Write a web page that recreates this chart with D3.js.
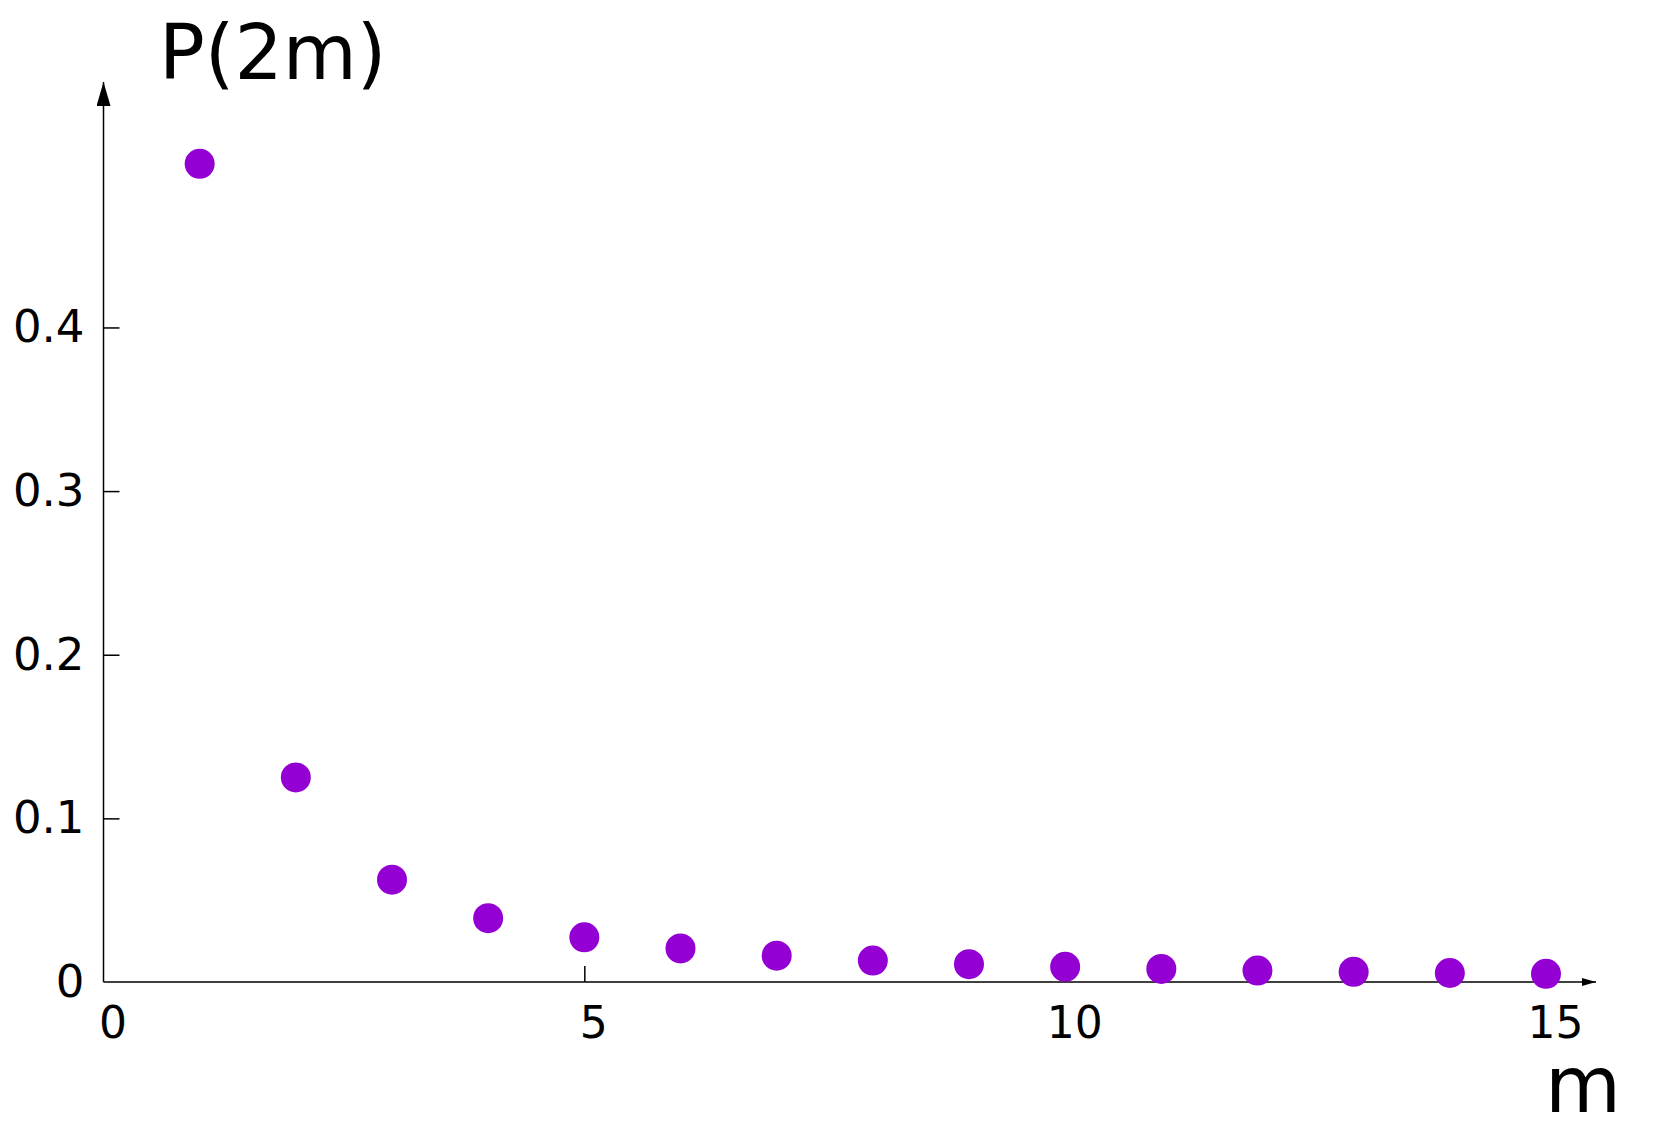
<!DOCTYPE html>
<html>
<head>
<meta charset="utf-8">
<script src="https://cdn.jsdelivr.net/npm/d3@7"></script>
<style>
  body { margin: 0; background: #ffffff; }
  svg { display: block; }
</style>
</head>
<body>
<div id="chart"></div>
<script>
// Data
const mValues = [1, 2, 3, 4, 5, 6, 7, 8, 9, 10, 11, 12, 13, 14, 15];
const pValues = [0.5, 0.125, 0.0625, 0.039, 0.0273, 0.0205, 0.0161, 0.0131, 0.0109, 0.0093, 0.008, 0.007, 0.0062, 0.0055, 0.005];
const xTicks = [0, 5, 10, 15];
const yTicks = [0, 0.1, 0.2, 0.3, 0.4];

const width = 1657;
const height = 1132;
const fontFamily = '"DejaVu Sans", sans-serif';

const svg = d3.select('#chart')
  .append('svg')
  .attr('width', width)
  .attr('height', height);

// Scales
const x = d3.scaleLinear().domain([0, 15.52]).range([103.5, 1596]);
const y = d3.scaleLinear().domain([0, 0.55]).range([982, 82]);

// Arrow markers
const defs = svg.append('defs');
defs.append('marker')
  .attr('id', 'arrow-y')
  .attr('viewBox', '0 0 24 14')
  .attr('refX', 24)
  .attr('refY', 7)
  .attr('markerWidth', 24)
  .attr('markerHeight', 14)
  .attr('markerUnits', 'userSpaceOnUse')
  .attr('orient', 'auto')
  .append('path')
  .attr('d', 'M0,0 L24,7 L0,14 Z')
  .attr('fill', '#000');

defs.append('marker')
  .attr('id', 'arrow-x')
  .attr('viewBox', '0 0 14 8')
  .attr('refX', 14)
  .attr('refY', 4)
  .attr('markerWidth', 14)
  .attr('markerHeight', 8)
  .attr('markerUnits', 'userSpaceOnUse')
  .attr('orient', 'auto')
  .append('path')
  .attr('d', 'M0,0 L14,4 L0,8 Z')
  .attr('fill', '#000');

// X axis
const xAxis = svg.append('g')
  .attr('transform', `translate(0,${y(0)})`)
  .call(d3.axisBottom(x)
    .tickValues(xTicks)
    .tickFormat(d3.format('d'))
    .tickSizeInner(-16)
    .tickSizeOuter(0)
    .tickPadding(25));
xAxis.select('.domain').remove();
xAxis.selectAll('.tick line').attr('stroke-width', 1.5)
  .filter(d => d === 0).remove();
xAxis.selectAll('.tick text')
  .attr('dx', 9)
  .style('font-family', fontFamily)
  .style('font-size', '44px')
  .attr('fill', '#000');

// Y axis
const yAxis = svg.append('g')
  .attr('transform', `translate(${x(0)},0)`)
  .call(d3.axisLeft(y)
    .tickValues(yTicks)
    .tickFormat(d => d === 0 ? '0' : d3.format('.1f')(d))
    .tickSizeInner(-16)
    .tickSizeOuter(0)
    .tickPadding(19));
yAxis.select('.domain').remove();
yAxis.selectAll('.tick line').attr('stroke-width', 1.5)
  .filter(d => d === 0).remove();
yAxis.selectAll('.tick text')
  .style('font-family', fontFamily)
  .style('font-size', '45px')
  .attr('fill', '#000');

// Axis lines with arrows
svg.append('line')
  .attr('x1', x(0)).attr('y1', y(0))
  .attr('x2', x.range()[1]).attr('y2', y(0))
  .attr('stroke', '#000')
  .attr('stroke-width', 1.5)
  .attr('marker-end', 'url(#arrow-x)');

svg.append('line')
  .attr('x1', x(0)).attr('y1', y(0))
  .attr('x2', x(0)).attr('y2', y.range()[1])
  .attr('stroke', '#000')
  .attr('stroke-width', 1.5)
  .attr('marker-end', 'url(#arrow-y)');

// Points
svg.selectAll('.point')
  .data(mValues.map((m, i) => ({ m: m, p: pValues[i] })))
  .enter()
  .append('circle')
  .attr('class', 'point')
  .attr('cx', d => x(d.m))
  .attr('cy', d => y(d.p))
  .attr('r', 15)
  .attr('fill', '#9400d3');

// Axis titles
svg.append('text')
  .attr('x', 159)
  .attr('y', 79)
  .style('font-family', fontFamily)
  .style('font-size', '76px')
  .attr('fill', '#000')
  .text('P(2m)');

svg.append('text')
  .attr('x', 1545)
  .attr('y', 1112)
  .style('font-family', fontFamily)
  .style('font-size', '78px')
  .attr('fill', '#000')
  .text('m');
</script>
</body>
</html>
